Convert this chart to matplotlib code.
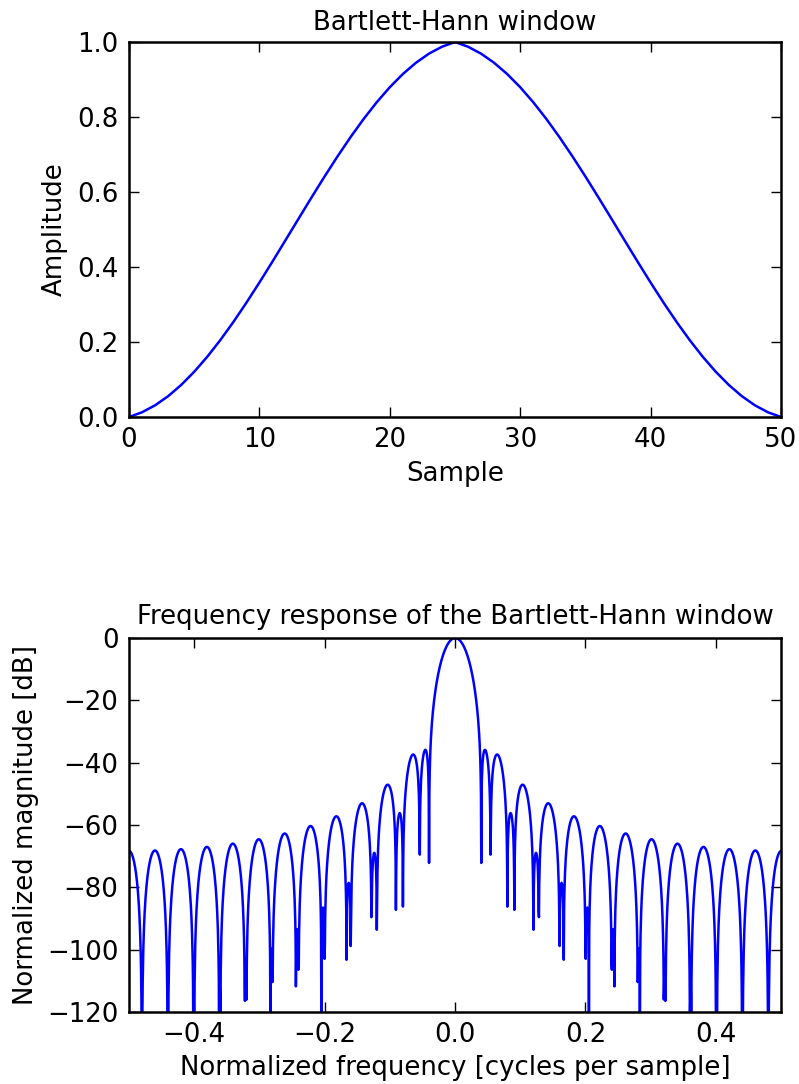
import numpy as np
import matplotlib
matplotlib.use("Agg")
import matplotlib.pyplot as plt

# Bartlett-Hann window samples (51 points)
window = [
    0.0, 0.0125964, 0.0311384, 0.0554849, 0.0854035, 0.1205735, 0.1605919,
    0.2049789, 0.2531858, 0.3046039, 0.3585735, 0.4143951, 0.4713396,
    0.5286604, 0.5856049, 0.6414265, 0.6953961, 0.7468142, 0.7950211,
    0.8394081, 0.8794265, 0.9145965, 0.9445151, 0.9688616, 0.9874036,
    1.0,
    0.9874036, 0.9688616, 0.9445151, 0.9145965, 0.8794265, 0.8394081,
    0.7950211, 0.7468142, 0.6953961, 0.6414265, 0.5856049, 0.5286604,
    0.4713396, 0.4143951, 0.3585735, 0.3046039, 0.2531858, 0.2049789,
    0.1605919, 0.1205735, 0.0854035, 0.0554849, 0.0311384, 0.0125964, 0.0,
]
nfft = 2048

title1 = "Bartlett-Hann window"
title2 = "Frequency response of the Bartlett-Hann window"
xlabel1 = "Sample"
ylabel1 = "Amplitude"
xlabel2 = "Normalized frequency [cycles per sample]"
ylabel2 = "Normalized magnitude [dB]"

fs = 18.7
lw = 1.8
plt.rcParams.update({
    "font.family": "DejaVu Sans",
    "font.size": fs,
    "axes.linewidth": lw,
    "xtick.direction": "in",
    "ytick.direction": "in",
    "xtick.top": True,
    "ytick.right": True,
    "xtick.major.size": 7.2,
    "ytick.major.size": 7.2,
    "xtick.major.width": 1.0,
    "ytick.major.width": 1.0,
    "xtick.major.pad": 7,
    "ytick.major.pad": 7.5,
})

W, H = 799, 1084
fig = plt.figure(figsize=(W / 100, H / 100), dpi=100)

def ax_rect(l, t, r, b):
    return [l / W, 1 - b / H, (r - l) / W, (b - t) / H]

w = np.asarray(window)
ax1 = fig.add_axes(ax_rect(129, 42, 781, 417))
ax1.plot(np.arange(len(w)), w, color="#0000ff", lw=lw)
ax1.set_xlim(0, 50)
ax1.set_ylim(0, 1.0)
ax1.set_xticks([0, 10, 20, 30, 40, 50])
ax1.set_yticks([0.0, 0.2, 0.4, 0.6, 0.8, 1.0])
ax1.set_title(title1, fontsize=fs, pad=9)
ax1.set_xlabel(xlabel1, labelpad=6)
ax1.set_ylabel(ylabel1, labelpad=7)

A = np.fft.fft(w, nfft) / (len(w) / 2.0)
freq = np.linspace(-0.5, 0.5, len(A))
mag = np.abs(np.fft.fftshift(A / np.abs(A).max()))
response = 20 * np.log10(np.maximum(mag, 1e-12))

ax2 = fig.add_axes(ax_rect(129, 638, 781, 1012))
ax2.plot(freq, response, color="#0000ff", lw=lw)
ax2.set_xlim(-0.5, 0.5)
ax2.set_ylim(-120, 0)
ax2.set_xticks([-0.4, -0.2, 0.0, 0.2, 0.4])
ax2.set_yticks([0, -20, -40, -60, -80, -100, -120])
ax2.set_title(title2, fontsize=fs, pad=10)
ax2.set_xlabel(xlabel2, labelpad=5.5)
ax2.set_ylabel(ylabel2, labelpad=6)

fig.savefig("out.png", dpi=100)
